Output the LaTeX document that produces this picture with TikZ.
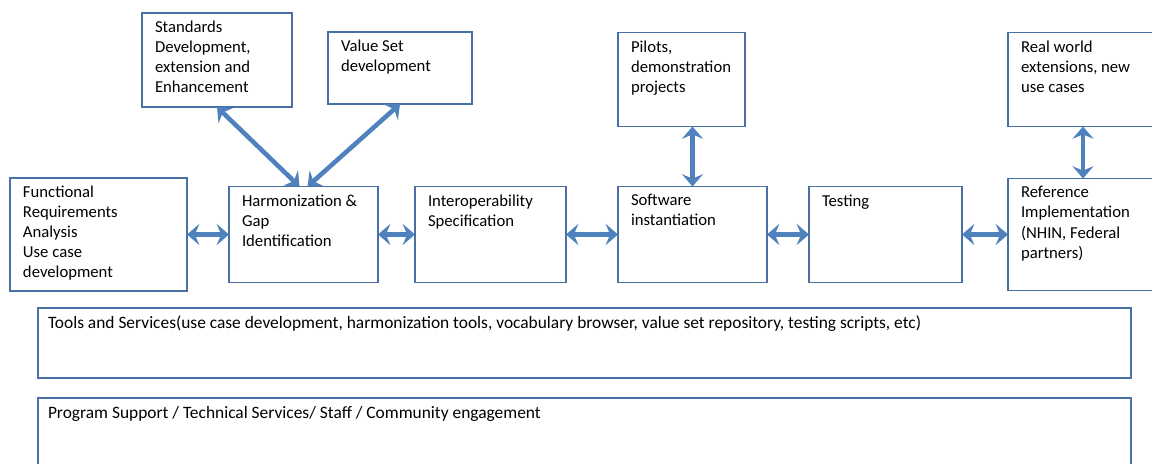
\documentclass[tikz,border=0pt]{standalone}
\usepackage{fontspec}
\setmainfont{Carlito}
\usetikzlibrary{arrows.meta, positioning}
\definecolor{boxline}{RGB}{74,111,165}
\definecolor{arrowblue}{RGB}{79,129,189}
\newcommand{\boxtext}[3]{\parbox[t][#2][t]{#1}{\raggedright #3}}

\begin{document}
\begin{tikzpicture}[<->,>={Stealth[length=7pt,width=12pt,inset=2.5pt]},node distance=0.84cm]
            \tikzset{box/.style={draw=boxline, line width=1.1pt, fill=white, outer sep=0pt, inner xsep=0.26cm, inner ysep=0.16cm, font=\fontsize{9.5}{11.4}\selectfont},
                     every edge/.style={draw=arrowblue, line width=2.6pt}}
            \useasboundingbox (0,0) rectangle (23.04,-9.26);
            \node[box, anchor=north west] (F) at (0.20,-3.56) {\boxtext{3.02cm}{1.94cm}{Functional\\ Requirements\\ Analysis\\ Use case\\ development}};
            \node[box] (H) [right=0.84cm of F] {\boxtext{2.46cm}{1.60cm}{Harmonization \&\\ Gap\\ Identification}};
            \node[box] (I) [right=0.74cm of H] {\boxtext{2.50cm}{1.60cm}{Interoperability\\ Specification}};
            \node[box] (S) [right=1.04cm of I] {\boxtext{2.46cm}{1.60cm}{Software\\ instantiation}};
            \node[box] (T) [right=0.84cm of S] {\boxtext{2.54cm}{1.60cm}{Testing}};
            \node[box] (R) [right=0.92cm of T] {\boxtext{2.48cm}{1.92cm}{Reference\\ Implementation\\ (NHIN, Federal\\ partners)}};
            \node[box, anchor=north west] (SD) at (2.84,-0.26) {\boxtext{2.48cm}{1.56cm}{Standards\\ Development,\\ extension and\\ Enhancement}};
            \node[box, anchor=north west] (V) at (6.56,-0.64) {\boxtext{2.36cm}{1.12cm}{Value Set\\ development}};
            \node[box] (P) [above=1.2cm of S.north west, anchor=south west] {\boxtext{2.02cm}{1.56cm}{Pilots,\\ demonstration\\ projects}};
            \node[box] (W) [above=1.04cm of R.north west, anchor=south west] {\boxtext{2.48cm}{1.56cm}{Real world\\ extensions, new\\ use cases}};
            \node[box, anchor=north west, inner xsep=0.2cm, font=\fontsize{9.9}{11.4}\selectfont] (TS) at (0.76,-6.16) {\boxtext{21.46cm}{1.08cm}{Tools and Services(use case development, harmonization tools, vocabulary browser, value set repository, testing scripts, etc)}};
            \node[box, inner xsep=0.2cm, font=\fontsize{9.9}{11.4}\selectfont] (PS) [below=0.4cm of TS] {\boxtext{21.46cm}{1.12cm}{Program Support / Technical Services/ Staff / Community engagement}};
            \path (F) edge (H);
            \path (H) edge (I);
            \path (I) edge (S);
            \path (S) edge (T);
            \path (T) edge (R);
            \path (SD.south) edge ([xshift=-0.08cm]H.north);
            \path (V.south) edge ([xshift=0.08cm]H.north);
            \path (P.south -| S.north) edge (S.north);
            \path (W) edge (R);
        \end{tikzpicture}
\end{document}
